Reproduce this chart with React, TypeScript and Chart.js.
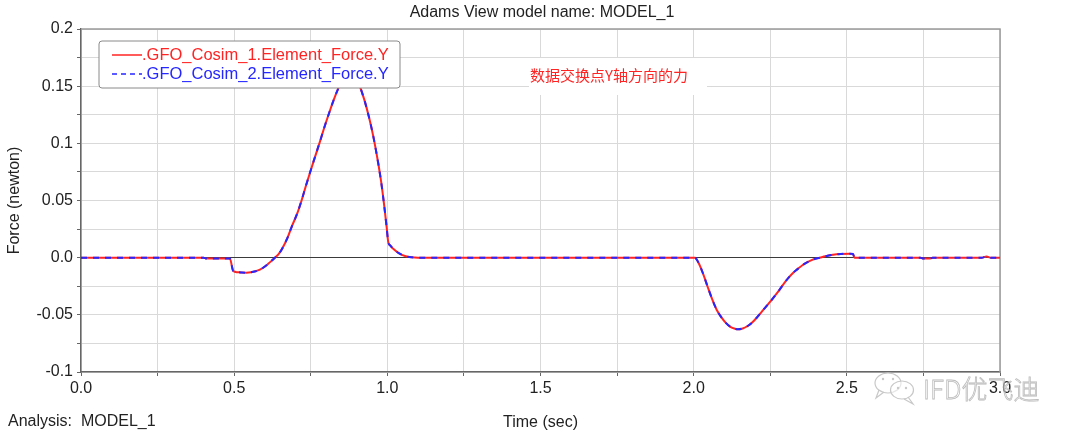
import React, { useEffect, useRef } from "react";
import { Chart, registerables } from "chart.js";

Chart.register(...registerables);

const timeSec: number[] = [
  0, 0.4, 0.41, 0.486, 0.497, 0.51, 0.525, 0.54, 0.555, 0.57, 0.584, 0.598, 0.611, 0.622,
  0.633, 0.645, 0.66, 0.675, 0.69, 0.705, 0.72, 0.735, 0.75, 0.765, 0.78, 0.795, 0.81, 0.825,
  0.84, 0.855, 0.87, 0.88, 0.89, 0.9, 0.91, 0.925, 0.94, 0.955, 0.97, 0.98, 0.99, 0.998,
  1.003, 1.01, 1.02, 1.04, 1.06, 1.08, 1.1,
  2.0, 2.004, 2.015, 2.03, 2.045, 2.06, 2.075, 2.09, 2.105, 2.12, 2.135, 2.145, 2.16, 2.175,
  2.19, 2.205, 2.22, 2.235, 2.25, 2.265, 2.28, 2.295, 2.31, 2.325, 2.34, 2.355, 2.37, 2.385,
  2.4, 2.412, 2.43, 2.455, 2.48, 2.51, 2.52, 2.525,
  2.74, 2.75, 2.77, 2.78, 2.94, 2.956, 2.97, 3.0,
];

const force1: number[] = [
  0, 0, -0.0008, -0.0008, -0.0117, -0.0127, -0.013, -0.0131, -0.0128, -0.0119, -0.0105,
  -0.0082, -0.0054, -0.0028, 0, 0.003, 0.0095, 0.018, 0.0285, 0.038, 0.05, 0.0635, 0.0765,
  0.089, 0.1015, 0.1145, 0.1265, 0.138, 0.148, 0.156, 0.161, 0.162, 0.1605, 0.1565, 0.15,
  0.138, 0.123, 0.105, 0.083, 0.066, 0.045, 0.026, 0.0136, 0.0105, 0.0075, 0.0035, 0.0012,
  0.0003, 0,
  0, 0, -0.004, -0.0135, -0.025, -0.036, -0.0455, -0.052, -0.057, -0.0605, -0.0622, -0.0627,
  -0.0619, -0.06, -0.057, -0.0528, -0.048, -0.0432, -0.0385, -0.0335, -0.0282, -0.0225,
  -0.0175, -0.0132, -0.0098, -0.0066, -0.0042, -0.0022, -0.0008, 0, 0.0012, 0.0025, 0.0032,
  0.0035, 0.0033, 0,
  0, -0.0008, -0.0008, 0, 0, 0.001, 0, 0,
];

const force2: number[] = [
  0, 0, -0.0008, -0.0008, -0.0117, -0.0127, -0.013, -0.0131, -0.0128, -0.0119, -0.0105,
  -0.0082, -0.0054, -0.0028, 0, 0.003, 0.0095, 0.018, 0.0285, 0.038, 0.05, 0.0635, 0.0765,
  0.089, 0.1015, 0.1145, 0.1265, 0.138, 0.148, 0.156, 0.161, 0.162, 0.1605, 0.1565, 0.15,
  0.138, 0.123, 0.105, 0.083, 0.066, 0.045, 0.026, 0.0136, 0.0105, 0.0075, 0.0035, 0.0012,
  0.0003, 0,
  0, 0, -0.004, -0.0135, -0.025, -0.036, -0.0455, -0.052, -0.057, -0.0605, -0.0622, -0.0627,
  -0.0619, -0.06, -0.057, -0.0528, -0.048, -0.0432, -0.0385, -0.0335, -0.0282, -0.0225,
  -0.0175, -0.0132, -0.0098, -0.0066, -0.0042, -0.0022, -0.0008, 0, 0.0012, 0.0025, 0.0032,
  0.0035, 0.0033, 0,
  0, -0.0008, -0.0008, 0, 0, 0.001, 0, 0,
];

const xTickLabels: string[] = ["0.0", "0.5", "1.0", "1.5", "2.0", "2.5", "3.0"];
const yTickLabels: string[] = ["-0.1", "-0.05", "0.0", "0.05", "0.1", "0.15", "0.2"];

const seriesNames: string[] = [
  ".GFO_Cosim_1.Element_Force.Y",
  ".GFO_Cosim_2.Element_Force.Y",
];

const titleText = "Adams View model name: MODEL_1";
const analysisText = "Analysis:  MODEL_1";
const annotationText = "数据交换点Y轴方向的力";
const watermarkText = "IFD优飞迪";

const FONT = "'Liberation Sans', Arial, Helvetica, sans-serif";
const RED = "#ff2424";
const BLUE = "#2626ff";

const extrasPlugin = {
  id: "extras",
  beforeDatasetsDraw(chart: any) {
    const ctx = chart.ctx;
    const { left, top, right, bottom } = chart.chartArea;
    ctx.save();
    ctx.fillStyle = "#ffffff";
    ctx.fillRect(529, 58, 178, 37);
    ctx.fillStyle = RED;
    ctx.font = "15px 'Noto Sans CJK SC', sans-serif";
    ctx.textBaseline = "middle";
    ctx.textAlign = "left";
    ctx.fillText(annotationText, 530, 75);
    ctx.strokeStyle = "#9a9a9a";
    ctx.lineWidth = 1.5;
    ctx.beginPath();
    ctx.moveTo(left, top);
    ctx.lineTo(right, top);
    ctx.lineTo(right, bottom);
    ctx.stroke();
    ctx.restore();
  },
  afterDatasetsDraw(chart: any) {
    const ctx = chart.ctx;
    ctx.save();
    const bx = 99, by = 41, bw = 301, bh = 47, r = 3;
    ctx.beginPath();
    ctx.moveTo(bx + r, by);
    ctx.lineTo(bx + bw - r, by);
    ctx.quadraticCurveTo(bx + bw, by, bx + bw, by + r);
    ctx.lineTo(bx + bw, by + bh - r);
    ctx.quadraticCurveTo(bx + bw, by + bh, bx + bw - r, by + bh);
    ctx.lineTo(bx + r, by + bh);
    ctx.quadraticCurveTo(bx, by + bh, bx, by + bh - r);
    ctx.lineTo(bx, by + r);
    ctx.quadraticCurveTo(bx, by, bx + r, by);
    ctx.closePath();
    ctx.fillStyle = "#ffffff";
    ctx.fill();
    ctx.strokeStyle = "#8a8a8a";
    ctx.lineWidth = 1;
    ctx.stroke();

    const rows = [
      { y: 55, color: RED, dash: [] as number[] },
      { y: 74, color: BLUE, dash: [5, 4] },
    ];
    rows.forEach((row, i) => {
      ctx.beginPath();
      ctx.setLineDash(row.dash);
      ctx.strokeStyle = row.color;
      ctx.lineWidth = 1.5;
      ctx.moveTo(112, row.y);
      ctx.lineTo(142, row.y);
      ctx.stroke();
      ctx.setLineDash([]);
      ctx.fillStyle = row.color;
      ctx.font = `16.5px ${FONT}`;
      ctx.textBaseline = "middle";
      ctx.textAlign = "left";
      ctx.fillText(seriesNames[i], 142, row.y);
    });
    ctx.restore();
  },
  afterDraw(chart: any) {
    const ctx = chart.ctx;
    ctx.save();
    ctx.fillStyle = "#222222";
    ctx.font = `16px ${FONT}`;
    ctx.textBaseline = "middle";
    ctx.textAlign = "center";
    ctx.fillText(titleText, 542, 13);
    ctx.textAlign = "left";
    ctx.fillText(analysisText, 8, 422);

    // watermark icon
    ctx.strokeStyle = "#c8c8c8";
    ctx.fillStyle = "rgba(255,255,255,0.55)";
    ctx.lineWidth = 1.2;
    ctx.beginPath();
    ctx.ellipse(888, 383, 13, 10, 0, 0, Math.PI * 2);
    ctx.fill();
    ctx.stroke();
    ctx.beginPath();
    ctx.moveTo(879, 390);
    ctx.lineTo(876, 398);
    ctx.lineTo(884, 392);
    ctx.stroke();
    ctx.beginPath();
    ctx.ellipse(902, 390, 11.5, 9, 0, 0, Math.PI * 2);
    ctx.fill();
    ctx.stroke();
    ctx.beginPath();
    ctx.moveTo(908, 397);
    ctx.lineTo(913, 404);
    ctx.lineTo(904, 399);
    ctx.stroke();
    ctx.fillStyle = "#c8c8c8";
    [[883, 379], [893, 379], [898, 388], [906, 388]].forEach(([x, y]) => {
      ctx.beginPath();
      ctx.arc(x, y, 1.2, 0, Math.PI * 2);
      ctx.fill();
    });
    // watermark text (outlined)
    ctx.font = "300 26px 'Noto Sans CJK SC', sans-serif";
    ctx.textBaseline = "middle";
    ctx.textAlign = "left";
    ctx.fillStyle = "rgba(255,255,255,0.45)";
    ctx.fillText(watermarkText, 923, 389);
    ctx.strokeStyle = "rgba(170,170,170,0.8)";
    ctx.lineWidth = 0.8;
    ctx.strokeText(watermarkText, 923, 389);
    ctx.restore();
  },
};

export default function App() {
  const canvasRef = useRef<HTMLCanvasElement | null>(null);

  useEffect(() => {
    if (!canvasRef.current) return;
    const d1 = timeSec.map((t, i) => ({ x: t, y: force1[i] }));
    const d2 = timeSec.map((t, i) => ({ x: t, y: force2[i] }));

    const chart = new Chart(canvasRef.current, {
      type: "line",
      data: {
        datasets: [
          {
            label: seriesNames[0],
            data: d1,
            borderColor: RED,
            borderWidth: 2,
            pointRadius: 0,
            cubicInterpolationMode: "monotone",
            order: 2,
          },
          {
            label: seriesNames[1],
            data: d2,
            borderColor: BLUE,
            borderWidth: 2,
            borderDash: [6, 6],
            pointRadius: 0,
            cubicInterpolationMode: "monotone",
            order: 1,
          },
        ],
      },
      options: {
        responsive: false,
        animation: false,
        devicePixelRatio: 1,
        layout: { padding: { top: 29, left: 0, right: 80, bottom: 0 } },
        plugins: {
          legend: { display: false },
          title: { display: false },
          tooltip: { enabled: false },
        },
        scales: {
          x: {
            type: "linear",
            min: 0,
            max: 3,
            afterFit: (s: any) => {
              s.height = 65;
            },
            ticks: {
              stepSize: 0.25,
              autoSkip: false,
              maxRotation: 0,
              padding: 3,
              color: "#222222",
              font: { family: FONT, size: 16 },
              callback: (v: any) => {
                const k = Math.round(Number(v) * 100);
                if (k % 50 !== 0) return "";
                return xTickLabels[k / 50] ?? "";
              },
            },
            grid: {
              color: "#d9d9d9",
              lineWidth: 1,
              tickLength: 4,
              tickColor: "#666666",
            },
            border: { color: "#666666", width: 1.5 },
            title: {
              display: true,
              text: "Time (sec)",
              color: "#222222",
              font: { family: FONT, size: 16 },
              padding: { top: 0, bottom: 5 },
            },
          },
          y: {
            type: "linear",
            min: -0.1,
            max: 0.2,
            afterFit: (s: any) => {
              s.width = 81;
            },
            ticks: {
              stepSize: 0.025,
              autoSkip: false,
              padding: 4,
              color: "#222222",
              font: { family: FONT, size: 16 },
              callback: (v: any) => {
                const k = Math.round(Number(v) * 1000);
                if (k % 50 !== 0) return "";
                return yTickLabels[(k + 100) / 50] ?? "";
              },
            },
            grid: {
              color: (c: any) =>
                c.tick && Math.abs(c.tick.value) < 1e-9 ? "#3a3a3a" : "#d9d9d9",
              lineWidth: 1,
              tickLength: 4,
              tickColor: "#666666",
            },
            border: { color: "#666666", width: 1.5 },
            title: {
              display: true,
              text: "Force (newton)",
              color: "#222222",
              font: { family: FONT, size: 16 },
              padding: { top: 5, bottom: 0 },
            },
          },
        },
      },
      plugins: [extrasPlugin],
    } as any);

    return () => chart.destroy();
  }, []);

  return (
    <div style={{ position: "fixed", left: 0, top: 0, width: 1080, height: 437, background: "#ffffff" }}>
      <canvas ref={canvasRef} width={1080} height={437} style={{ width: 1080, height: 437, display: "block" }} />
    </div>
  );
}
